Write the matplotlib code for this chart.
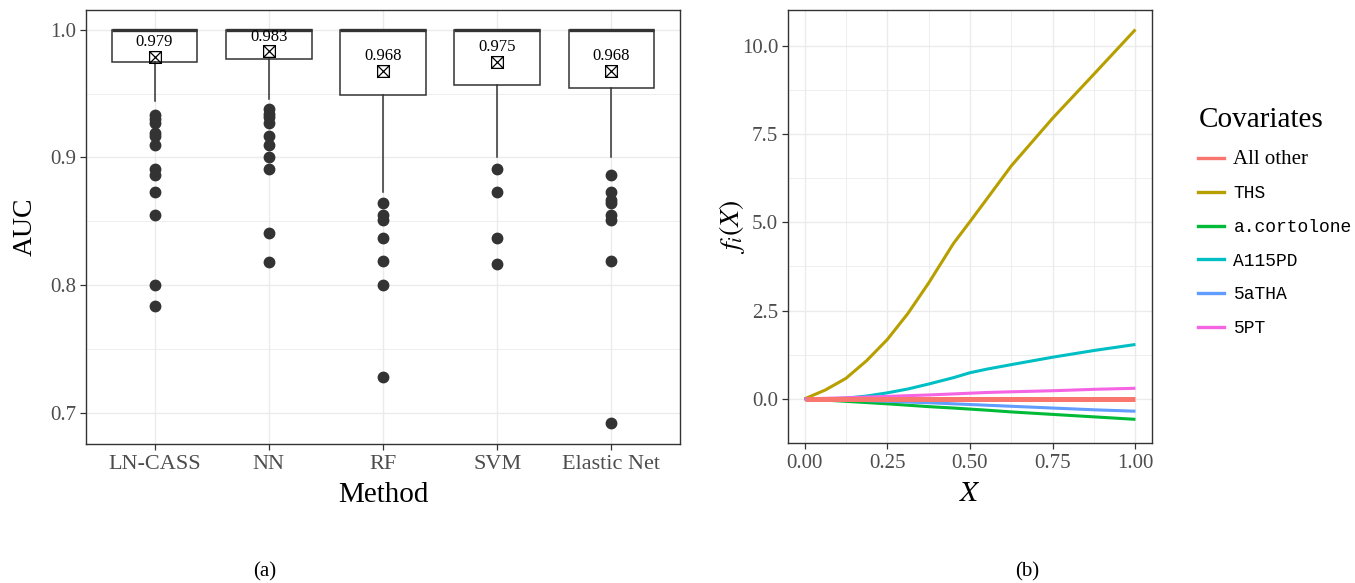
import matplotlib
matplotlib.use("Agg")
import matplotlib.pyplot as plt
from matplotlib.path import Path
from matplotlib.lines import Line2D
import numpy as np

plt.rcParams['font.family'] = ['Liberation Serif', 'DejaVu Serif']
plt.rcParams['mathtext.fontset'] = 'stix'

# ---------------- data: panel (a) ----------------
methods = ["LN-CASS", "NN", "RF", "SVM", "Elastic Net"]
q1 = [0.9745, 0.9771, 0.9486, 0.9571, 0.9543]
med = [1.0, 1.0, 1.0, 1.0, 1.0]
q3 = [1.0, 1.0, 1.0, 1.0, 1.0]
whis_lo = [0.944, 0.946, 0.873, 0.9005, 0.9005]
whis_hi = [1.0, 1.0, 1.0, 1.0, 1.0]
means = [0.979, 0.983, 0.968, 0.975, 0.968]
out_lncass = [0.933, 0.930, 0.927, 0.919, 0.917, 0.910, 0.891, 0.886, 0.873, 0.855, 0.800, 0.784]
out_nn = [0.938, 0.934, 0.932, 0.927, 0.917, 0.910, 0.900, 0.891, 0.841, 0.818]
out_rf = [0.864, 0.855, 0.851, 0.837, 0.819, 0.800, 0.728]
out_svm = [0.891, 0.873, 0.837, 0.817]
out_enet = [0.886, 0.873, 0.867, 0.864, 0.855, 0.851, 0.819, 0.692]
outliers = [out_lncass, out_nn, out_rf, out_svm, out_enet]

# ---------------- data: panel (b) ----------------
x_vals = [0.0, 0.0625, 0.125, 0.1875, 0.25, 0.3125, 0.375, 0.45, 0.5, 0.55, 0.625, 0.75, 0.875, 1.0]
f_allother = [0.0] * 14
f_ths = [0.0, 0.25, 0.58, 1.08, 1.68, 2.42, 3.28, 4.4, 5.02, 5.65, 6.6, 7.95, 9.2, 10.46]
f_cortolone = [0.0, -0.035, -0.07, -0.105, -0.14, -0.18, -0.22, -0.26, -0.29, -0.32, -0.37, -0.44, -0.51, -0.58]
f_a115pd = [0.0, 0.0, 0.02, 0.08, 0.17, 0.28, 0.42, 0.6, 0.74, 0.84, 0.97, 1.18, 1.37, 1.54]
f_5atha = [0.0, -0.015, -0.03, -0.05, -0.07, -0.09, -0.11, -0.14, -0.16, -0.18, -0.21, -0.26, -0.31, -0.35]
f_5pt = [0.0, 0.015, 0.03, 0.05, 0.07, 0.09, 0.11, 0.14, 0.16, 0.18, 0.2, 0.23, 0.27, 0.30]
cov_names = ["All other", "THS", "a.cortolone", "A115PD", "5aTHA", "5PT"]
cov_colors = ["#F8766D", "#B79F00", "#00BA38", "#00BFC4", "#619CFF", "#F564E3"]
cov_values = [f_allother, f_ths, f_cortolone, f_a115pd, f_5atha, f_5pt]

W, H = 1355, 583
fig = plt.figure(figsize=(W / 100, H / 100), dpi=100)

GRID = "#EBEBEB"
BORDER = "#333333"
TICKC = "#4D4D4D"


def style_axes(ax):
    ax.set_facecolor("white")
    for s in ax.spines.values():
        s.set_color(BORDER)
        s.set_linewidth(1.0)
    ax.grid(True, which="major", color=GRID, lw=1.0, zorder=0)
    ax.grid(True, which="minor", color=GRID, lw=0.6, zorder=0)
    ax.set_axisbelow(True)
    ax.tick_params(which="major", length=4, width=0.9, color=BORDER,
                   labelsize=15, labelcolor=TICKC, pad=3)
    ax.tick_params(which="minor", length=0)


# ---------------- panel (a) ----------------
ax1 = fig.add_axes([86 / W, 1 - 444 / H, (680 - 86) / W, (444 - 10) / H])
style_axes(ax1)
stats = []
for i in range(len(methods)):
    stats.append(dict(med=med[i], q1=q1[i], q3=q3[i], whislo=whis_lo[i],
                      whishi=whis_hi[i], mean=means[i], fliers=outliers[i],
                      label=methods[i]))
sq_cross = Path([(-1, -1), (1, -1), (1, 1), (-1, 1), (-1, -1),
                 (-1, -1), (1, 1), (-1, 1), (1, -1)],
                [Path.MOVETO, Path.LINETO, Path.LINETO, Path.LINETO, Path.CLOSEPOLY,
                 Path.MOVETO, Path.LINETO, Path.MOVETO, Path.LINETO])
positions = np.arange(1, len(methods) + 1)
ax1.bxp(stats, positions=positions, widths=0.75, showmeans=True, showcaps=False,
        patch_artist=True,
        boxprops=dict(facecolor="white", edgecolor=BORDER, linewidth=1.1),
        whiskerprops=dict(color=BORDER, linewidth=1.1),
        medianprops=dict(color=BORDER, linewidth=2.4),
        meanprops=dict(marker=sq_cross, markersize=8.5, markerfacecolor="none",
                       markeredgecolor="black", markeredgewidth=0.9),
        flierprops=dict(marker="o", markersize=7.5, markerfacecolor=BORDER,
                        markeredgecolor=BORDER, linestyle="none"))
for p, m in zip(positions, means):
    ax1.annotate(f"{m:.3f}", (p, m), xytext=(0, 4.5), textcoords="offset points",
                 ha="center", va="bottom", fontsize=12, color="black")
ax1.set_xlim(0.4, 5.6)
ax1.set_ylim(0.6758, 1.0154)
ax1.set_yticks([0.7, 0.8, 0.9, 1.0])
ax1.set_yticks([0.75, 0.85, 0.95], minor=True)
ax1.set_xticks(positions)
ax1.set_xticklabels(methods, fontsize=16)
ax1.tick_params(axis="x", pad=4)
ax1.xaxis.grid(True, which="major", color=GRID, lw=1.0)
ax1.set_xlabel("Method", fontsize=21, labelpad=6)
ax1.set_ylabel("AUC", fontsize=20, labelpad=9)

# ---------------- panel (b) ----------------
ax2 = fig.add_axes([788 / W, 1 - 443 / H, (1152 - 788) / W, (443 - 10) / H])
style_axes(ax2)
handles = []
for name, col, vals in zip(cov_names, cov_colors, cov_values):
    lw = 3.6 if name == "All other" else 2.2
    z = 5 if name == "All other" else 3
    ax2.plot(x_vals, vals, color=col, lw=lw, zorder=z, solid_capstyle="butt")
    handles.append(Line2D([0], [0], color=col, lw=2.4))
ax2.set_xlim(-0.05, 1.05)
ax2.set_ylim(-1.132, 11.012)
ax2.set_xticks([0, 0.25, 0.5, 0.75, 1.0])
ax2.set_xticklabels(["0.00", "0.25", "0.50", "0.75", "1.00"])
ax2.set_xticks([0.125, 0.375, 0.625, 0.875], minor=True)
ax2.set_yticks([0, 2.5, 5.0, 7.5, 10.0])
ax2.set_yticklabels(["0.0", "2.5", "5.0", "7.5", "10.0"])
ax2.set_yticks([-1.25, 1.25, 3.75, 6.25, 8.75], minor=True)
ax2.tick_params(axis="x", pad=4)
ax2.set_xlabel(r"$X$", fontsize=21, labelpad=6)
ax2.set_ylabel(r"$f_i(X)$", fontsize=20)
ax2.yaxis.set_label_coords(-0.112, 0.5)

leg = fig.legend(handles, cov_names, loc="upper left",
                 bbox_to_anchor=(1182 / W, 1 - 91 / H), frameon=False,
                 title="Covariates", title_fontsize=21, fontsize=13,
                 handlelength=1.4, handletextpad=0.55, labelspacing=0.92,
                 alignment="left")
for i, t in enumerate(leg.get_texts()):
    if i == 0:
        t.set_fontfamily(["Liberation Serif"])
        t.set_fontsize(15)
    else:
        t.set_fontfamily(["Liberation Mono", "DejaVu Sans Mono"])

fig.text(265 / W, 1 - 572 / H, "(a)", ha="center", va="center", fontsize=15)
fig.text(1027 / W, 1 - 572 / H, "(b)", ha="center", va="center", fontsize=15)

fig.savefig("out.png", dpi=100, facecolor="white")
